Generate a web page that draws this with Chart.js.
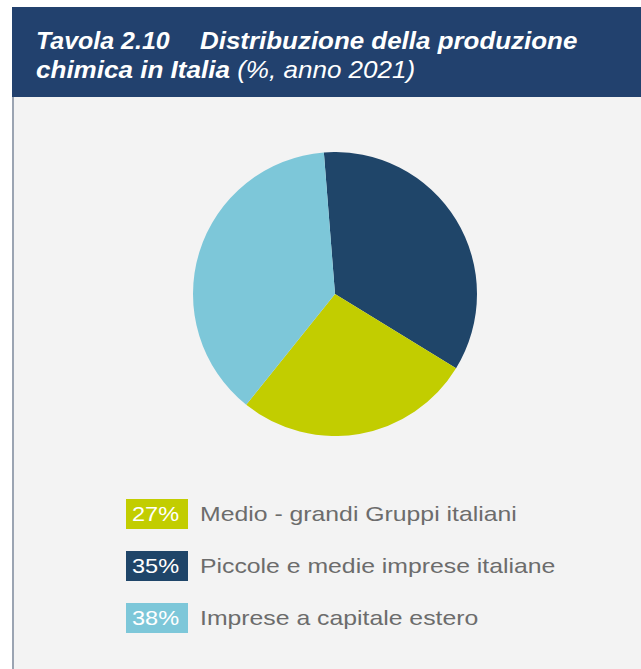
<!DOCTYPE html>
<html lang="it">
<head>
<meta charset="utf-8">
<title>Tavola 2.10</title>
<script src="https://cdn.jsdelivr.net/npm/chart.js@4.4.0/dist/chart.umd.min.js"></script>
<style>
  html, body { margin: 0; padding: 0; background: #fff; }
  body { width: 641px; height: 669px; position: relative; overflow: hidden;
         font-family: "Liberation Sans", Arial, Helvetica, sans-serif; }
  #header { position: absolute; left: 12px; top: 7px; width: 629px; height: 90px;
            background: #22416e; color: #fff; }
  #header .t { position: absolute; font-size: 24px; font-style: italic;
               line-height: 32px; white-space: pre; transform-origin: 0 50%; }
  #header b { font-weight: bold; }
  #panel { position: absolute; left: 12px; top: 97px; width: 629px; height: 572px;
           background: #f3f3f3; border-left: 2px solid #9ba4b2; box-sizing: border-box; }
  #pie { position: absolute; left: 193px; top: 152px; width: 284px; height: 284px; }
  .item { position: absolute; left: 126px; height: 30px; }
  .item .box { position: absolute; left: 0; top: 0; width: 62px; height: 30px; }
  .item .num { position: absolute; left: 6px; top: 0; color: #fff; font-size: 21px;
               line-height: 30px; transform: scaleX(1.12); transform-origin: 0 50%; }
  .item .lab { position: absolute; left: 74px; top: 0; line-height: 30px;
               font-size: 21px; color: #6c6c6c; white-space: nowrap;
               transform: scaleX(1.18); transform-origin: 0 50%; }
</style>
</head>
<body>
<div id="header">
  <div class="t" style="left:24px;top:18px;transform:scaleX(1.04)"><b>Tavola 2.10</b></div>
  <div class="t" style="left:188px;top:18px;transform:scaleX(1.08)"><b>Distribuzione della produzione</b></div>
  <div class="t" style="left:24px;top:47px;transform:scaleX(1.085)"><b>chimica in Italia</b> (%, anno 2021)</div>
</div>
<div id="panel"></div>
<div id="pie"><canvas id="torta"></canvas></div>
<div id="legenda"></div>

<script>
// categorie e quote (in ordine di legenda)
const categorie = [
  "Medio - grandi Gruppi italiani",
  "Piccole e medie imprese italiane",
  "Imprese a capitale estero"
];
const quote = [27, 35, 38];
const colori = ["#c2cd00", "#1f4569", "#7dc7d9"];

// ordine delle fette in senso orario partendo dall'alto
const ordineFette = [1, 0, 2];

// legenda a riquadri con la percentuale
function costruisciLegenda() {
  var leg = document.getElementById("legenda");
  categorie.forEach((cat, i) => {
    var item = document.createElement("div");
    item.className = "item";
    item.style.top = (499 + i * 52) + "px";
    item.innerHTML = '<div class="box" style="background:' + colori[i] + '">' +
      '<span class="num">' + quote[i] + '%</span></div><div class="lab">' + cat + '</div>';
    leg.appendChild(item);
  });
}

function disegnaTorta() {
  var ctx = document.getElementById("torta").getContext("2d");
  new Chart(ctx, {
    type: "pie",
    data: {
      labels: ordineFette.map((i) => categorie[i]),
      datasets: [{
        data: ordineFette.map((i) => quote[i]),
        backgroundColor: ordineFette.map((i) => colori[i]),
        borderWidth: 0
      }]
    },
    options: {
      responsive: true,
      maintainAspectRatio: false,
      animation: false,
      rotation: -4.5,
      layout: { padding: 0 },
      plugins: {
        legend: { display: false },
        tooltip: { enabled: false }
      }
    }
  });
}

costruisciLegenda();
disegnaTorta();
</script>
</body>
</html>
